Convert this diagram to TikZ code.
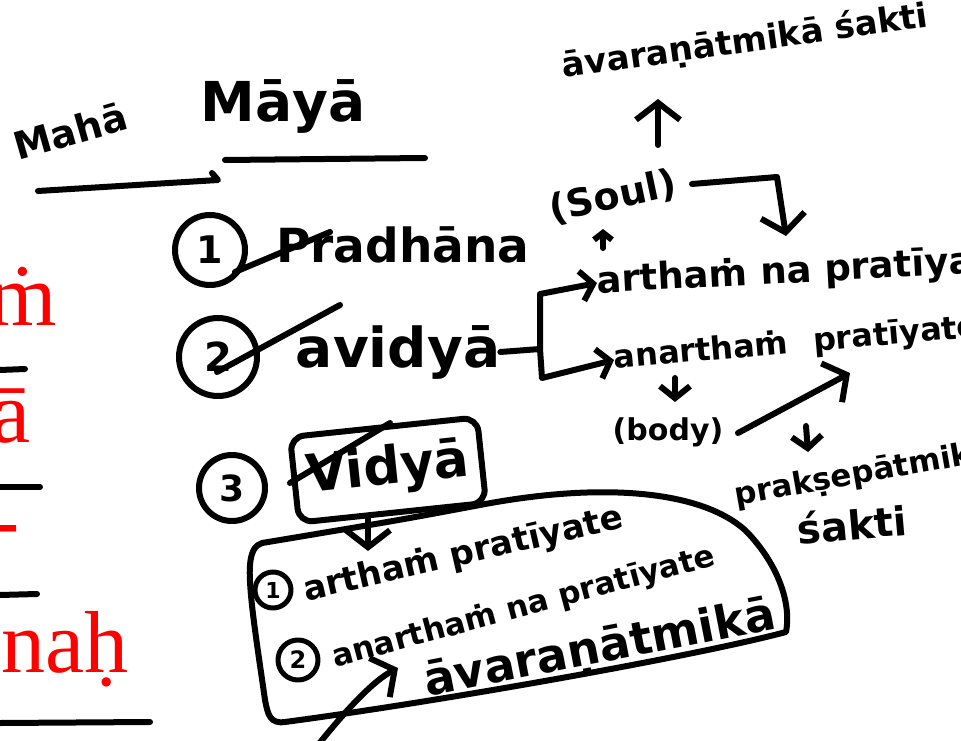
\documentclass[tikz,border=0pt]{standalone}
\usepackage{fontspec}
\setmainfont{Liberation Serif}
\newfontfamily\handfont{DejaVu Sans}
\usetikzlibrary{arrows.meta}
\newcommand\fsz[1]{\fontsize{#1}{#1}\selectfont}

\begin{document}
\begin{tikzpicture}[
    x=1pt, y=-1pt,
    hand/.style={font=\handfont\bfseries\fsz{#1}, inner sep=0pt},
    hand/.default=40,
    pen/.style={line width=6pt, line cap=round, line join=round},
    smalltip/.style={-{Straight Barb[length=7pt,width=18pt]}},
    tip/.style={-{Straight Barb[length=12pt,width=30pt]}},
    bigtip/.style={-{Straight Barb[length=17pt,width=44pt]}},
    numcirc/.style={draw, circle, pen, minimum size=#1, inner sep=0pt},
    redtxt/.style={text=red, font=\fsz{88}, inner sep=0pt, anchor=base east}
]

% --- Rahmen (Pixelmass 961 x 741) ---
\useasboundingbox (0,0) rectangle (961,741);
\clip (0,0) rectangle (961,741);

% --- rote Silben am linken Rand, mit Strichen ---
\node[redtxt] (s1) at (57,325) {ṁ};
\node[redtxt] (s2) at (31,442) {ā};
\node[redtxt] (s3) at (20,549) {-};
\node[redtxt] (s4) at (129,672) {naḥ};
\draw[pen] (0,370) -- (25,369);
\draw[pen] (0,487) -- (40,487);
\draw[pen] (0,595) -- (37,594);
\draw[pen] (0,723) -- (150,722);

% --- Titel ---
\node[hand=38, rotate=16] (maha) at (70,131) {Mahā};
\node[hand=55] (maya) at (283,106) {Māyā};
\draw[pen] (38,191) -- (218,180) -- (212,173);
\draw[pen] (225,160) -- (425,158);

% --- 1: Pradhana ---
\node[numcirc=70, hand=38] (c1) at (210,250) {1};
\node[hand=47] (pradhana) at (403,245) {Pradhāna};
\draw[pen] (235,272) -- (330,232);

% --- 2: avidya mit Gabel ---
\node[numcirc=78, hand=40] (c2) at (218,357) {2};
\node[hand=55] (avidya) at (398,352) {avidyā};
\draw[pen] (217,372) -- (340,305);
\coordinate (fork) at (540,349);
\draw[pen] (avidya.east) -- (fork);
\node[hand=37, anchor=west, rotate=3] (artha) at (597,283) {arthaṁ na pratīyate};
\node[hand=32, anchor=west, rotate=5] (anartha) at (614,360) {anarthaṁ\hspace{14pt} pratīyate};
\draw[pen, tip] (fork) -- (540,294) -- (artha.west);
\draw[pen, tip] (fork) -- (542,378) -- (anartha.west);

% --- Seele und avaranatmika ---
\node[hand=38, rotate=12] (soul) at (613,197) {(Soul)};
\node[hand=34, anchor=west, rotate=8] (avarana) at (562,68) {āvaraṇātmikā śakti};
\coordinate (soulup) at (658,145);
\coordinate (souldn) at (603,248);
\coordinate (turn) at (777,177);
\coordinate (downend) at (786,236);
\draw[pen, bigtip] (soulup) -- (658,99);
\draw[pen, smalltip] (souldn) -- (603,229);
\draw[pen, bigtip] (692,184) -- (turn) -- (downend);

% --- Koerper und praksepatmika ---
\node[hand=30] (body) at (668,432) {(body)};
\draw[pen, tip] (675,378) -- (675,402);
\coordinate (bodyto) at (850,373);
\draw[pen, bigtip] (738,433) -- (bodyto);
\draw[pen, tip] (806,426) -- (808,452);
\node[hand=31, anchor=west, rotate=10] (praksepa) at (735,497) {prakṣepātmikā};
\node[hand=40, rotate=5] (sakti) at (852,524) {śakti};

% --- 3: Vidya im Kasten ---
\node[numcirc=66, hand=36] (c3) at (232,488) {3};
\node[draw, pen, rounded corners=14pt, minimum width=188, minimum height=86,
      rotate=6, hand=52] (vidya) at (388,470) {Vidyā};
\draw[pen] (290,483) -- (390,423);
\draw[pen, bigtip] (368,516) -- (368,551);

% --- Blase mit Unterpunkten ---
\draw[pen] (262,543) .. controls (400,520) .. (480,505)
    .. controls (600,482) and (700,490) .. (745,530)
    .. controls (775,560) and (792,600) .. (786,632)
    .. controls (700,655) and (450,700) .. (285,722)
    .. controls (270,724) and (268,715) .. (265,700)
    .. controls (258,650) and (248,590) .. (250,565)
    .. controls (251,552) and (255,545) .. (262,543);
\node[numcirc=36, line width=5pt, hand=22] (b1) at (273,590) {1};
\node[hand=34, anchor=west, rotate=13] (bart) at (304,592) {arthaṁ pratīyate};
\node[numcirc=40, line width=5pt, hand=24] (b2) at (298,660) {2};
\node[hand=31, anchor=west, rotate=15] (bana) at (333,659) {anarthaṁ na pratīyate};
\node[hand=46, rotate=11] (bava) at (600,650) {āvaraṇātmikā};
\coordinate (curvefrom) at (318,745);
\draw[pen, bigtip] (curvefrom) .. controls (350,705) and (375,680) .. (398,668);

\end{tikzpicture}
\end{document}
